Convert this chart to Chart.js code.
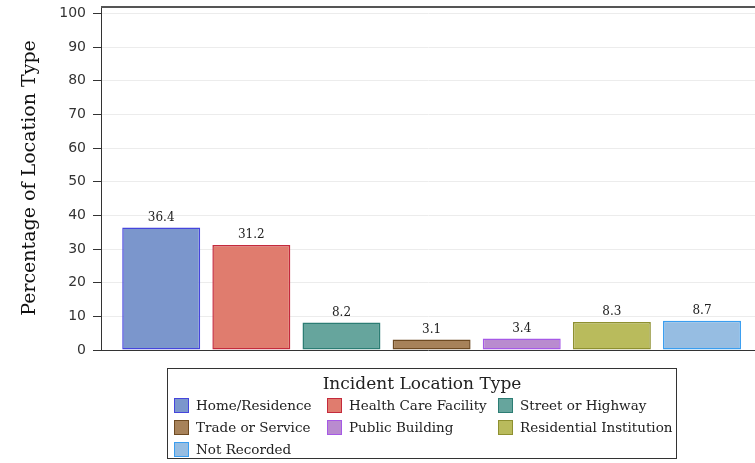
<!DOCTYPE html>
<html>
<head>
<meta charset="utf-8">
<script src="https://cdn.jsdelivr.net/npm/chart.js@4"></script>
<style>
  body { margin: 0; background: #fff; }
  .wrap { position: relative; width: 755px; height: 463px; }
  .legend {
    position: absolute; left: 167px; top: 368px; width: 510px; height: 91px;
    border: 1px solid #333; box-sizing: border-box;
    font-family: "DejaVu Serif", serif; color: #222;
  }
  .legend__title { text-align: center; font-size: 17px; margin-top: 3px; height: 22px; line-height: 22px; }
  .legend__items { display: grid; grid-template-columns: 153px 171px auto; margin-left: 6px; }
  .legend__item { display: flex; align-items: center; height: 22px; font-size: 13.5px; white-space: nowrap; }
  .legend__box { width: 13px; height: 13px; border: 1.5px solid; margin-right: 7px; flex: none; }
</style>
</head>
<body>
<div class="wrap">
  <canvas id="chart" width="755" height="463"></canvas>
  <div class="legend">
    <div class="legend__title">Incident Location Type</div>
    <div class="legend__items" id="legend"></div>
  </div>
</div>
<script>
const locations = ['Home/Residence', 'Health Care Facility', 'Street or Highway', 'Trade or Service',
  'Public Building', 'Residential Institution', 'Not Recorded'];
const percents = [36.4, 31.2, 8.2, 3.1, 3.4, 8.3, 8.7];
const yTicks = [0, 10, 20, 30, 40, 50, 60, 70, 80, 90, 100];
const fills = ['#7b96cc', '#e07c6e', '#66a59d', '#a7825a', '#b98bcf', '#b9bb5c', '#96bde2'];
const edges = ['#4545dc', '#c42a3c', '#2c7d74', '#6e4a22', '#a659e6', '#8e9030', '#3a9ef0'];

// legend
const legendEl = document.getElementById('legend');
locations.forEach((name, i) => {
  const item = document.createElement('div');
  item.className = 'legend__item';
  const box = document.createElement('span');
  box.className = 'legend__box';
  box.style.background = fills[i];
  box.style.borderColor = edges[i];
  item.appendChild(box);
  item.appendChild(document.createTextNode(name));
  legendEl.appendChild(item);
});

const frameAndLabels = {
  id: 'frameAndLabels',
  afterDatasetsDraw(chart) {
    const { ctx, chartArea } = chart;
    ctx.save();
    ctx.strokeStyle = '#555';
    ctx.lineWidth = 2;
    ctx.beginPath();
    ctx.moveTo(chartArea.left, chartArea.top + 1);
    ctx.lineTo(chartArea.right, chartArea.top + 1);
    ctx.stroke();

    ctx.font = '12px "DejaVu Serif", serif';
    ctx.fillStyle = '#222';
    ctx.textAlign = 'center';
    ctx.textBaseline = 'bottom';
    chart.getDatasetMeta(0).data.forEach((bar, i) => {
      ctx.fillText(percents[i].toFixed(1), bar.x, bar.y - 4);
    });
    ctx.restore();
  }
};

new Chart(document.getElementById('chart'), {
  type: 'bar',
  data: {
    datasets: [{
      data: percents.map((v, i) => ({ x: i, y: v })),
      backgroundColor: fills,
      borderColor: edges,
      borderWidth: 1.5,
      borderSkipped: false,
      barPercentage: 0.865,
      categoryPercentage: 1
    }]
  },
  options: {
    responsive: false,
    animation: false,
    layout: { padding: { top: 6, bottom: 113, left: 0, right: 0 } },
    plugins: { legend: { display: false }, tooltip: { enabled: false } },
    scales: {
      x: {
        type: 'linear',
        offset: false,
        min: -0.668,
        max: 6.588,
        afterBuildTicks(scale) { scale.ticks = locations.map((n, i) => ({ value: i })); },
        ticks: { display: false },
        grid: { display: false },
        border: { color: '#333', width: 1 },
        afterFit(scale) { scale.height = 0; }
      },
      y: {
        min: 0,
        max: 102.2,
        afterBuildTicks(scale) { scale.ticks = yTicks.map(v => ({ value: v })); },
        afterFit(scale) {
          scale.width = 101;
          scale.paddingTop = 0;
          scale.paddingBottom = 0;
        },
        ticks: {
          padding: 7,
          color: '#333',
          font: { family: 'DejaVu Sans', size: 14 }
        },
        grid: { color: '#ececec', tickColor: '#333', tickLength: 8 },
        border: { color: '#333', width: 1 },
        title: {
          display: true,
          text: 'Percentage of Location Type',
          color: '#111',
          font: { family: 'DejaVu Serif', size: 19 },
          padding: { top: 19 }
        }
      }
    }
  },
  plugins: [frameAndLabels]
});
</script>
</body>
</html>
